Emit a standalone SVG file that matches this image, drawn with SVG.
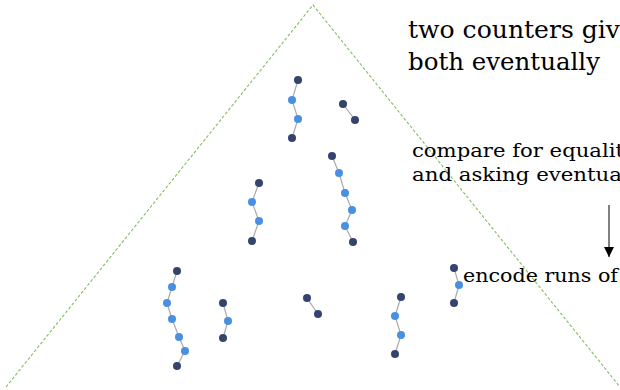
<svg xmlns="http://www.w3.org/2000/svg" width="620" height="390" viewBox="0 0 620 390">
<defs>
<style>
.bg{fill:#ffffff}
.tri{fill:none;stroke:#82bd62;stroke-width:1.1;stroke-dasharray:3 2}
.e{stroke:#aaaaaa;stroke-width:1.2;fill:none}
.d{fill:#34446c}
.l{fill:#4a90e2}
.t{font-family:'DejaVu Serif',serif;fill:#000}
.arr{stroke:#000;stroke-width:1;fill:none}
</style>
<marker id="ah" viewBox="0 0 10 10" refX="10" refY="5" markerWidth="10" markerHeight="10" markerUnits="userSpaceOnUse" orient="auto">
<path d="M0,0 L10,5 L0,10 Z" fill="#000"/>
</marker>
</defs>
<rect class="bg" x="0" y="0" width="620" height="390"/>
<polyline id="triangle" class="tri" points="6,387 313,5 620,387"/>
<g id="connectors">
<polyline class="e" points="298,80 292,100 298,119 292,138"/>
<polyline class="e" points="343,104 355,120"/>
<polyline class="e" points="332,156 339,173 345,193 352,210 345,226 353,242"/>
<polyline class="e" points="259,183 252,202 259,221 252,241"/>
<polyline class="e" points="177,271 172,287 167,303 172,319 179,337 185,351 177,366"/>
<polyline class="e" points="223,303 228,321 223,338"/>
<polyline class="e" points="307,298 318,314"/>
<polyline class="e" points="401,297 395,316 401,335 395,354"/>
<polyline class="e" points="454,268 459,285 454,303"/>
<line class="arr" x1="609" y1="205" x2="609" y2="257" marker-end="url(#ah)"/>
</g>
<g id="chain1">
<circle class="d" cx="298" cy="80" r="4"/><circle class="l" cx="292" cy="100" r="4"/><circle class="l" cx="298" cy="119" r="4"/><circle class="d" cx="292" cy="138" r="4"/>
</g>
<g id="chain2">
<circle class="d" cx="343" cy="104" r="4"/><circle class="d" cx="355" cy="120" r="4"/>
</g>
<g id="chain3">
<circle class="d" cx="332" cy="156" r="4"/><circle class="l" cx="339" cy="173" r="4"/><circle class="l" cx="345" cy="193" r="4"/><circle class="l" cx="352" cy="210" r="4"/><circle class="l" cx="345" cy="226" r="4"/><circle class="d" cx="353" cy="242" r="4"/>
</g>
<g id="chain4">
<circle class="d" cx="259" cy="183" r="4"/><circle class="l" cx="252" cy="202" r="4"/><circle class="l" cx="259" cy="221" r="4"/><circle class="d" cx="252" cy="241" r="4"/>
</g>
<g id="chain5">
<circle class="d" cx="177" cy="271" r="4"/><circle class="l" cx="172" cy="287" r="4"/><circle class="l" cx="167" cy="303" r="4"/><circle class="l" cx="172" cy="319" r="4"/><circle class="l" cx="179" cy="337" r="4"/><circle class="l" cx="185" cy="351" r="4"/><circle class="d" cx="177" cy="366" r="4"/>
</g>
<g id="chain6">
<circle class="d" cx="223" cy="303" r="4"/><circle class="l" cx="228" cy="321" r="4"/><circle class="d" cx="223" cy="338" r="4"/>
</g>
<g id="chain7">
<circle class="d" cx="307" cy="298" r="4"/><circle class="d" cx="318" cy="314" r="4"/>
</g>
<g id="chain8">
<circle class="d" cx="401" cy="297" r="4"/><circle class="l" cx="395" cy="316" r="4"/><circle class="l" cx="401" cy="335" r="4"/><circle class="d" cx="395" cy="354" r="4"/>
</g>
<g id="chain9">
<circle class="d" cx="454" cy="268" r="4"/><circle class="l" cx="459" cy="285" r="4"/><circle class="d" cx="454" cy="303" r="4"/>
</g>
<g id="title">
<text class="t" x="408" y="38" font-size="24" textLength="212" lengthAdjust="spacingAndGlyphs">two counters giv</text>
<text class="t" x="408" y="70" font-size="24" textLength="192" lengthAdjust="spacingAndGlyphs">both eventually</text>
</g>
<g id="compare">
<text class="t" x="412" y="157" font-size="18" textLength="212" lengthAdjust="spacingAndGlyphs">compare for equalit</text>
<text class="t" x="412" y="181" font-size="18" textLength="210" lengthAdjust="spacingAndGlyphs">and asking eventua</text>
</g>
<g id="encode">
<text class="t" x="463" y="282" font-size="18" textLength="155" lengthAdjust="spacingAndGlyphs">encode runs of</text>
</g>
</svg>
